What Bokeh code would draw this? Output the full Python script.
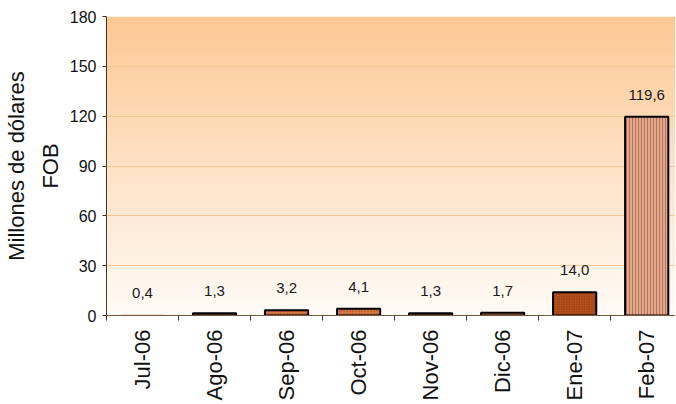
import numpy as np
from bokeh.plotting import figure
from bokeh.models import ColumnDataSource, Range1d, FixedTicker, LabelSet
from bokeh.core.properties import value
from bokeh.embed import file_html
from bokeh.resources import INLINE

# ---- data ----
months = ["Jul-06", "Ago-06", "Sep-06", "Oct-06", "Nov-06", "Dic-06", "Ene-07", "Feb-07"]
values = [0.4, 1.3, 3.2, 4.1, 1.3, 1.7, 14.0, 119.6]
value_labels = ["0,4", "1,3", "3,2", "4,1", "1,3", "1,7", "14,0", "119,6"]
y_ticks = [0, 30, 60, 90, 120, 150, 180]

# ---- styles (per bar) ----
fills = ["#D87A48", "#D87A48", "#D87A48", "#D87A48", "#D87A48", "#D87A48", "#B5501E", "#E2A98C"]
hatches = [" ", " ", "dot", "dot", " ", " ", "dot", "vertical_line"]
hatch_cols = ["#A04A20", "#A04A20", "#9A4520", "#9A4520", "#A04A20", "#A04A20", "#7A300E", "#B57559"]
hatch_scales = [3, 3, 3, 3, 3, 3, 2.5, 3]
outline_alpha = [0.0, 1, 1, 1, 1, 1, 1, 1]

centers = [i + 0.5 for i in range(len(months))]
bounds = list(range(len(months) + 1))

src = ColumnDataSource(dict(x=centers, top=values, lab=value_labels, fill=fills,
                            hatch=hatches, hcol=hatch_cols, hs=hatch_scales, la=outline_alpha))

FONT = "Liberation Sans"
X_END = 7.9

p = figure(width=675, height=403, output_backend="svg", toolbar_location=None,
           x_range=Range1d(0, X_END), y_range=Range1d(0, 180),
           min_border_left=106, min_border_right=0, min_border_top=16, min_border_bottom=60)
p.outline_line_color = None
p.background_fill_color = "white"
p.border_fill_color = "white"

# gradient plot-area background
n = 256
t = np.linspace(0, 1, n)  # 0 bottom -> 1 top
top_c = np.array([253, 200, 148])
bot_c = np.array([255, 251, 247])
cols = (bot_c[None, :] * (1 - t[:, None]) + top_c[None, :] * t[:, None]).astype(np.uint32)
img = np.empty((n, 1), dtype=np.uint32)
view = img.view(dtype=np.uint8).reshape((n, 1, 4))
view[:, 0, 0] = cols[:, 0]
view[:, 0, 1] = cols[:, 1]
view[:, 0, 2] = cols[:, 2]
view[:, 0, 3] = 255
p.image_rgba(image=[img], x=0, y=0, dw=X_END, dh=180, level="image")

# grid
p.xgrid.grid_line_color = None
p.ygrid.grid_line_color = "#FCC68F"
p.ygrid.grid_line_width = 1
p.ygrid.ticker = FixedTicker(ticks=y_ticks[1:])

# bars
p.vbar(x="x", top="top", width=0.6, bottom=0, source=src,
       fill_color="fill", hatch_pattern="hatch", hatch_color="hcol",
       hatch_scale="hs", hatch_weight=1.0,
       line_color="black", line_width=2, line_alpha="la")

# value labels
labels = LabelSet(x="x", y="top", text="lab", source=src, y_offset=22,
                  text_align="center", text_baseline="middle",
                  text_font=value(FONT), text_font_size=value("15px"), text_color="#1a1a1a")
p.add_layout(labels)

# y axis
p.yaxis.ticker = FixedTicker(ticks=y_ticks)
p.yaxis.minor_tick_line_color = None
p.yaxis.major_tick_in = 0
p.yaxis.major_tick_out = 4
p.yaxis.axis_line_color = "#4a3420"
p.yaxis.major_tick_line_color = "#4a3420"
p.yaxis.major_label_text_font = FONT
p.yaxis.major_label_text_font_size = "16px"
p.yaxis.major_label_text_color = "#111111"
p.yaxis.major_label_standoff = 6
p.yaxis.axis_label = "Millones de dólares\nFOB"
p.yaxis.axis_label_text_font = FONT
p.yaxis.axis_label_text_font_size = "22px"
p.yaxis.axis_label_text_font_style = "normal"
p.yaxis.axis_label_text_color = "#111111"
p.yaxis.axis_label_text_align = "center"
p.yaxis.axis_label_text_line_height = 1.35
p.yaxis.axis_label_standoff = 4

# x axis: labels at centres, tick marks at category boundaries
p.xaxis.ticker = FixedTicker(ticks=centers, minor_ticks=bounds)
p.xaxis.major_label_overrides = {c: m for c, m in zip(centers, months)}
p.xaxis.major_tick_in = 0
p.xaxis.major_tick_out = 0
p.xaxis.minor_tick_in = 0
p.xaxis.minor_tick_out = 5
p.xaxis.minor_tick_line_color = "#4a3420"
p.xaxis.axis_line_color = "#7a5a3a"
p.xaxis.major_label_orientation = np.pi / 2
p.xaxis.major_label_text_font = FONT
p.xaxis.major_label_text_font_size = "22px"
p.xaxis.major_label_text_color = "#111111"
p.xaxis.major_label_standoff = 9

open("out.html", "w").write(file_html(p, INLINE))
